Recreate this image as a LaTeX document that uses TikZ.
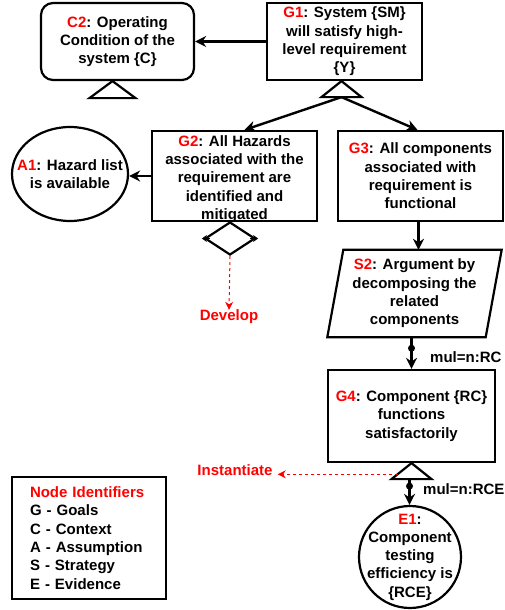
\documentclass[tikz,border=0pt]{standalone}
\usepackage{fontspec}
\setmainfont{Liberation Sans}
\usetikzlibrary{shapes.geometric,calc,arrows.meta}

\newcommand{\gid}[1]{\textcolor{red}{#1}}

\tikzset{
  every node/.style={font=\fontsize{15}{18.3}\selectfont\bfseries, align=center, inner sep=0pt},
  goalbox/.style={draw, rectangle, line width=2.2pt},
  ctxbox/.style={draw, rectangle, rounded corners=12pt, line width=2.2pt},
  assum/.style={draw, ellipse, line width=2.2pt},
  strat/.style={rectangle},
  evid/.style={draw, circle, line width=2.2pt},
  undev/.style={draw, diamond, line width=2.2pt},
  tri/.style={draw, line width=2.2pt, fill=white},
  conn/.style={draw, line width=2.4pt, -{Stealth[length=11pt,width=11pt,inset=3.5pt]}},
  devconn/.style={draw, red, dashed, line width=1pt, -{Stealth[length=8pt,width=8pt,inset=2.5pt]}},
  dot/.style={circle, fill=black, minimum size=7pt},
  legend/.style={draw, line width=1.5pt, align=left, text width=118pt, inner xsep=18pt,
    minimum height=122pt}
}

\begin{document}
\begin{tikzpicture}[x=1pt, y=-1pt]
  \useasboundingbox (0,0) rectangle (504,610);

  % goals, context and assumption
  \node[goalbox, minimum width=155, minimum height=77] (G1) at (344.5,41.5)
    {\gid{G1}: System \{SM\}\\will satisfy high-\\level requirement\\\{Y\}};
  \node[ctxbox, minimum width=153, minimum height=77] (C2) at (117.5,41.5)
    {\gid{C2}: Operating\\Condition of the\\system \{C\}};
  \node[goalbox, minimum width=165, minimum height=90,
    label={[yshift=-3pt]center:{\gid{G2}: All Hazards\\associated with the\\requirement are\\identified and\\mitigated}}] (G2) at (234.5,176) {};
  \node[goalbox, minimum width=165, minimum height=90] (G3) at (420.5,176)
    {\gid{G3}: All components\\associated with\\requirement is\\functional};
  \node[assum, minimum width=116, minimum height=94,
    label={center:{\gid{A1}: Hazard list\\is available}}] (A1) at (70,174) {};

  % strategy, sub-goal and evidence
  \node[strat, minimum width=158, minimum height=87] (S2) at (414.5,293.5)
    {\gid{S2}: Argument by\\decomposing the\\related\\components};
  \draw[line width=2.2pt] ([xshift=8pt]S2.north west) -- ([xshift=8pt]S2.north east)
    -- ([xshift=-8pt]S2.south east) -- ([xshift=-8pt]S2.south west) -- cycle;
  \node[goalbox, minimum width=167, minimum height=92] (G4) at (411.5,416)
    {\gid{G4}: Component \{RC\}\\functions\\satisfactorily};
  \node[evid, minimum size=102,
    label={center:{\gid{E1}:\\Component\\testing\\efficiency is\\\{RCE\}}}] (E1) at (410,557) {};

  % undeveloped goal
  \node[undev, minimum width=50, minimum height=33] (D2) at (230,238.5) {};
  \draw[-{Stealth[length=5pt,width=7pt]}, line width=1pt] ([xshift=6pt]D2.west) -- ([xshift=-2pt]D2.west);
  \draw[-{Stealth[length=5pt,width=7pt]}, line width=1pt] ([xshift=-6pt]D2.east) -- ([xshift=2pt]D2.east);

  % text labels
  \node[red] (Dev) at (229,317) {Develop};
  \node[red] (Inst) at (235,470) {Instantiate};
  \node[anchor=west] (m1) at (430,357) {mul=n:RC};
  \node[anchor=west] (m2) at (423,489) {mul=n:RCE};
  \node[legend] (L) at (89,538)
    {\gid{Node Identifiers}\\G - Goals\\C - Context\\A - Assumption\\S - Strategy\\E - Evidence};

  % context triangles
  \draw[tri] ([xshift=-5pt]C2.south) -- ++(-23,17) -- ++(46,0) -- cycle;
  \draw[tri] ([xshift=-3pt]G1.south) -- ++(-20,16) -- ++(40,0) -- cycle;
  \coordinate (G1b) at ([xshift=-3pt,yshift=-16pt]G1.south);
  \draw[tri] (G4.south) -- ++(-20,16) coordinate (G4l) -- ++(40,0) -- cycle;
  \coordinate (G4b) at ([yshift=-16pt]G4.south);
  \coordinate (G4i) at ($(G4.south)!0.7!(G4l)$);

  % connectors
  \draw[conn] (G1) -- (C2);
  \draw[conn] (G1b) -- ([xshift=10pt]G2.north);
  \draw[conn] (G1b) -- ([xshift=-3pt]G3.north);
  \draw[conn] (G2.west) -- (G2.west -| A1.east);
  \draw[conn] ([xshift=-2pt]G3.south) -- ([xshift=-2pt]G3.south |- S2.north);
  \draw[conn] (G4.north |- S2.south) -- (G4.north);
  \node[dot] (d1) at ($(G4.north |- S2.south)+(0,11)$) {};
  \draw[conn] ([xshift=-2pt]G4b) -- ([xshift=-2pt]G4b |- E1.north);
  \node[dot] (d2) at ($(G4b)+(-2,7)$) {};
  \draw[devconn] (D2.south) -- (Dev.north);
  \draw[devconn] (G4i) -- ([xshift=5pt]G4i -| Inst.east);

\end{tikzpicture}
\end{document}
